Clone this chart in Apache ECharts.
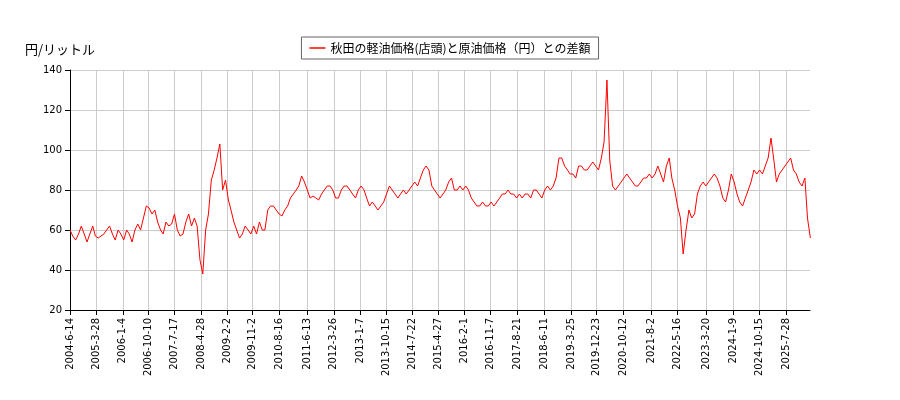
<!DOCTYPE html>
<html>
<head>
<meta charset="utf-8">
<script src="https://cdn.jsdelivr.net/npm/echarts@6/dist/echarts.min.js"></script>
<style>body{margin:0}#chart{width:900px;height:400px}</style>
</head>
<body>
<div id="chart"></div>
<script>
// monthly values from 2004-06
const startYear = 2004, startMonth = 6
const values = [
  60, 57, 55, 58, 62, 58, 54,
  58, 62, 57, 56, 57, 58, 60, 62, 58, 55, 60, 58,
  55, 60, 58, 54, 60, 63, 60, 66, 72, 71, 68, 70,
  64, 60, 58, 64, 62, 63, 68, 60, 57, 58, 64, 68,
  62, 66, 62, 45, 38, 60, 68, 85, 90, 96, 103, 80,
  85, 75, 70, 64, 60, 56, 58, 62, 60, 58, 62, 58,
  64, 60, 60, 70, 72, 72, 70, 68, 67, 70, 72, 76,
  78, 80, 82, 87, 84, 80, 76, 77, 76, 75, 78, 80,
  82, 82, 80, 76, 76, 80, 82, 82, 80, 78, 76, 80,
  82, 80, 76, 72, 74, 72, 70, 72, 74, 78, 82, 80,
  78, 76, 78, 80, 78, 80, 82, 84, 82, 86, 90, 92,
  90, 82, 80, 78, 76, 78, 80, 84, 86, 80, 80, 82,
  80, 82, 80, 76, 74, 72, 72, 74, 72, 72, 74, 72,
  74, 76, 78, 78, 80, 78, 78, 76, 78, 76, 78, 78,
  76, 80, 80, 78, 76, 80, 82, 80, 82, 86, 96, 96,
  92, 90, 88, 88, 86, 92, 92, 90, 90, 92, 94, 92,
  90, 96, 104, 135, 95, 82, 80, 82, 84, 86, 88, 86,
  84, 82, 82, 84, 86, 86, 88, 86, 88, 92, 88, 84,
  92, 96, 86, 80, 72, 66, 48, 60, 70, 66, 68, 78,
  82, 84, 82, 84, 86, 88, 86, 82, 76, 74, 80, 88,
  84, 78, 74, 72, 76, 80, 84, 90, 88, 90, 88, 92,
  96, 106, 96, 84, 88, 90, 92, 94, 96, 90, 88, 84,
  82, 86, 66, 56
]
const tickLabels = ['2004-6-14','2005-3-28','2006-1-4','2006-10-10','2007-7-17','2008-4-28','2009-2-2','2009-11-2','2010-8-16','2011-6-13','2012-3-26','2013-1-7','2013-10-15','2014-7-22','2015-4-27','2016-2-1','2016-11-7','2017-8-21','2018-6-11','2019-3-25','2019-12-23','2020-10-12','2021-8-2','2022-5-16','2023-3-20','2024-1-9','2024-10-15','2025-7-28']
const seriesName = '秋田の軽油価格(店頭)と原油価格（円）との差額'

const DAY = 86400000
const toTs = s => { const [y, m, d] = s.split('-').map(Number); return Date.UTC(y, m - 1, d) / DAY }
const points = values.map((v, i) => {
  const m = startMonth - 1 + i
  return [Date.UTC(startYear + Math.floor(m / 12), m % 12, 14) / DAY, v]
})
const tickTs = tickLabels.map(toTs)
const fmt = t => { const d = new Date(Math.round(t) * DAY); return d.getUTCFullYear() + '-' + (d.getUTCMonth() + 1) + '-' + d.getUTCDate() }

const chart = echarts.init(document.getElementById('chart'))
chart.setOption({
  animation: false,
  textStyle: { fontFamily: 'DejaVu Sans' },
  title: { text: '円/リットル', left: 20, top: 38, textStyle: { fontSize: 13, fontWeight: 'normal', color: '#000', fontFamily: 'Noto Sans CJK JP' } },
  legend: {
    top: 37, left: 'center', data: [seriesName], borderColor: '#666', borderWidth: 1, borderRadius: 0,
    padding: [5, 8], icon: 'rect', itemWidth: 16, itemHeight: 1.5,
    textStyle: { fontSize: 12, color: '#000', fontFamily: 'Noto Sans CJK JP' }
  },
  grid: { left: 70, right: 90, top: 70, bottom: 90 },
  xAxis: {
    type: 'value', min: toTs('2004-6-14'), max: toTs('2026-4-10'),
    axisLine: { lineStyle: { color: '#000' } },
    axisTick: { customValues: tickTs, lineStyle: { color: '#000' } },
    axisLabel: { customValues: tickTs, rotate: 90, formatter: v => fmt(v), color: '#000', fontSize: 10 },
    splitLine: { show: true, customValues: tickTs, lineStyle: { color: '#ccc' } }
  },
  yAxis: {
    type: 'value', min: 20, max: 140, interval: 20,
    axisLine: { show: true, lineStyle: { color: '#000' } },
    axisTick: { show: true },
    axisLabel: { color: '#000', fontSize: 10 },
    splitLine: { lineStyle: { color: '#ccc' } }
  },
  series: [{
    name: seriesName, type: 'line', data: points, showSymbol: false,
    lineStyle: { color: '#ff0000', width: 1 }, itemStyle: { color: '#ff0000' }
  }]
})
</script>
</body>
</html>
